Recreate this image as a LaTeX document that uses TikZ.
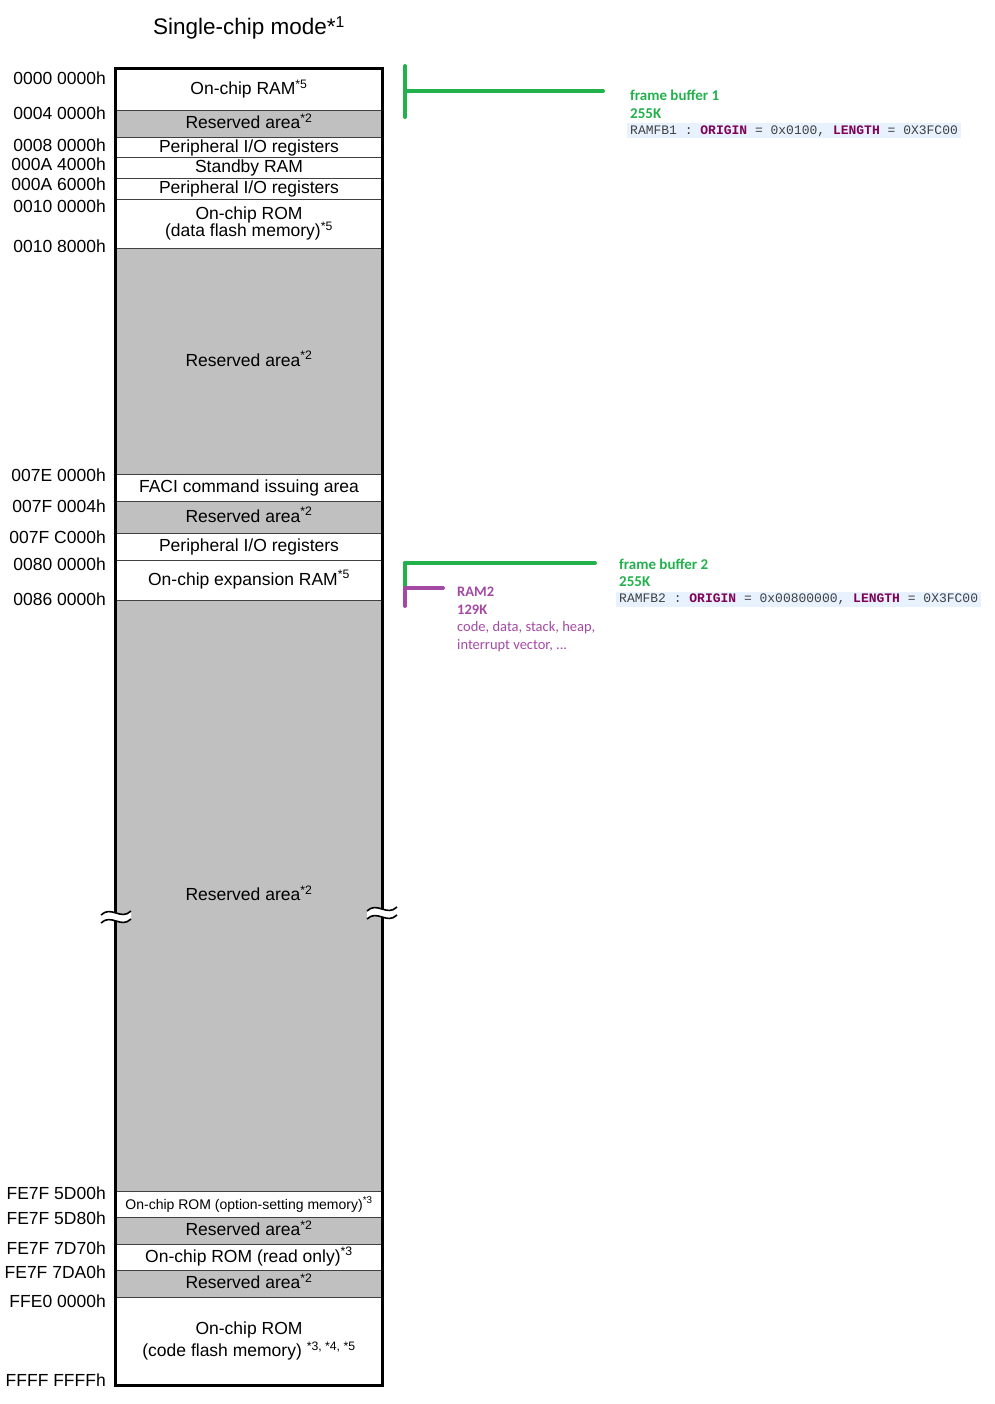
\documentclass[tikz,border=0pt]{standalone}
\usepackage{fontspec}
\setmainfont{Liberation Sans}
\setmonofont{Liberation Mono}
\newfontfamily\notefont{Carlito}
\usetikzlibrary{positioning}

\definecolor{memgray}{RGB}{192,192,192}
\definecolor{fbgreen}{RGB}{34,177,76}
\definecolor{rampurple}{RGB}{163,73,164}
\definecolor{kwred}{RGB}{127,0,85}
\definecolor{codebg}{RGB}{232,242,254}
\newcommand{\kw}[1]{\textbf{\textcolor{kwred}{#1}}}

\begin{document}
\begin{tikzpicture}[x=1pt,y=-1pt,
  base/.style={draw=black!75, line width=0.8pt, minimum width=266pt, inner sep=0pt,
    anchor=north, font=\fontsize{17.5}{20}\selectfont, align=center},
  cell/.style={base, text height=13pt, text depth=3.5pt},
  resv/.style={cell, fill=memgray},
  addr/.style={anchor=east, inner sep=0pt, font=\fontsize{17.5}{20}\selectfont},
  marker/.style={line width=4pt, line cap=round},
  note/.style={anchor=west, inner sep=0pt, font=\notefont\fontsize{14.5}{18}\selectfont, align=left},
  codebox/.style={anchor=west, fill=codebg, inner xsep=3pt, inner ysep=2pt,
    font=\ttfamily\fontsize{13}{15}\selectfont, text=black!75}]
\useasboundingbox (0,0) rectangle (994,1404);

% title
\node[font=\fontsize{22.5}{26}\selectfont] (title) at (249,28) {Single-chip mode*\textsuperscript{1}};

% memory map rows
\node[cell, minimum height=41pt] (ram) at (249,69) {On-chip RAM\textsuperscript{*5}};
\node[resv, minimum height=27pt] (rsvA) at (249,110) {Reserved area\textsuperscript{*2}};
\node[cell, minimum height=20pt] (pioA) at (249,137) {Peripheral I/O registers};
\node[cell, minimum height=21pt] (sbram) at (249,157) {Standby RAM};
\node[cell, minimum height=21pt] (pioB) at (249,178) {Peripheral I/O registers};
\node[base, minimum height=49pt] (dflash) at (249,199) {On-chip ROM\\[-3pt](data flash memory)\textsuperscript{*5}};
\node[resv, minimum height=226pt] (rsvB) at (249,248) {Reserved area\textsuperscript{*2}};
\node[cell, minimum height=27pt] (faci) at (249,474) {FACI command issuing area};
\node[resv, minimum height=32pt] (rsvC) at (249,501) {Reserved area\textsuperscript{*2}};
\node[cell, minimum height=27pt] (pioC) at (249,533) {Peripheral I/O registers};
\node[cell, minimum height=40pt] (expram) at (249,560) {On-chip expansion RAM\textsuperscript{*5}};
\node[resv, minimum height=591pt] (rsvD) at (249,600) {Reserved area\textsuperscript{*2}};
\node[cell, minimum height=26pt, font=\fontsize{14}{16}\selectfont] (optset) at (249,1191) {On-chip ROM (option-setting memory)\textsuperscript{*3}};
\node[resv, minimum height=27pt] (rsvE) at (249,1217) {Reserved area\textsuperscript{*2}};
\node[cell, minimum height=26pt] (rdonly) at (249,1244) {On-chip ROM (read only)\textsuperscript{*3}};
\node[resv, minimum height=27pt] (rsvF) at (249,1270) {Reserved area\textsuperscript{*2}};
\node[base, minimum height=88pt] (cflash) at (249,1297) {On-chip ROM\\[2pt](code flash memory) \textsuperscript{*3, *4, *5}};

\draw[line width=3pt] (ram.north west) rectangle (cflash.south east);

% break marks
\foreach \bx/\by in {116/917, 382/913} {
  \fill[white] (\bx-15,\by-2) .. controls (\bx-5,\by-12) and (\bx+5,\by+4) .. (\bx+15,\by-6)
    -- (\bx+15,\by+2) .. controls (\bx+5,\by+12) and (\bx-5,\by-4) .. (\bx-15,\by+6) -- cycle;
  \draw[line width=1.6pt] (\bx-15,\by-2) .. controls (\bx-5,\by-12) and (\bx+5,\by+4) .. (\bx+15,\by-6);
  \draw[line width=1.6pt] (\bx-15,\by+6) .. controls (\bx-5,\by-4) and (\bx+5,\by+12) .. (\bx+15,\by+2);
}

% addresses
\node[addr] (a00) at (106,78) {0000 0000h};
\node[addr] (a01) at (106,113) {0004 0000h};
\node[addr] (a02) at (106,145) {0008 0000h};
\node[addr] (a03) at (106,164) {000A 4000h};
\node[addr] (a04) at (106,184) {000A 6000h};
\node[addr] (a05) at (106,206) {0010 0000h};
\node[addr] (a06) at (106,246) {0010 8000h};
\node[addr] (a07) at (106,475) {007E 0000h};
\node[addr] (a08) at (106,506) {007F 0004h};
\node[addr] (a09) at (106,537) {007F C000h};
\node[addr] (a10) at (106,564) {0080 0000h};
\node[addr] (a11) at (106,599) {0086 0000h};
\node[addr] (a12) at (106,1193) {FE7F 5D00h};
\node[addr] (a13) at (106,1218) {FE7F 5D80h};
\node[addr] (a14) at (106,1248) {FE7F 7D70h};
\node[addr] (a15) at (106,1272) {FE7F 7DA0h};
\node[addr] (a16) at (106,1301) {FFE0 0000h};
\node[addr] (a17) at (106,1380) {FFFF FFFFh};

% frame buffer 1
\coordinate (fbAtop) at (405,66);
\coordinate (fbAbot) at (405,117);
\coordinate (fbAmid) at (405,91);
\coordinate (fbAend) at (603,91);
\draw[marker, fbgreen] (fbAtop) -- (fbAbot);
\draw[marker, fbgreen] (fbAmid) -- (fbAend);
\node[note, text=fbgreen, font=\notefont\bfseries\fontsize{15}{18}\selectfont] (fbAname) at (630,95) {frame buffer 1};
\node[note, text=fbgreen, font=\notefont\bfseries\fontsize{15}{18}\selectfont] (fbAsize) at (630,114) {255K};
\node[codebox] (fbAcode) at (627,131) {RAMFB1 : \kw{ORIGIN} = 0x0100, \kw{LENGTH} = 0X3FC00};

% frame buffer 2 and RAM2
\coordinate (fbBtop) at (405,563);
\coordinate (fbBend) at (595,563);
\coordinate (ramBtop) at (405,588);
\coordinate (ramBbot) at (405,606);
\coordinate (ramBend) at (443,588);
\draw[marker, fbgreen] (fbBtop) -- (ramBtop);
\draw[marker, fbgreen] (fbBtop) -- (fbBend);
\draw[marker, rampurple] (ramBtop) -- (ramBbot);
\draw[marker, rampurple] (ramBtop) -- (ramBend);
\node[note, text=fbgreen, font=\notefont\bfseries\fontsize{15}{18}\selectfont] (fbBname) at (619,564) {frame buffer 2};
\node[note, text=fbgreen, font=\notefont\bfseries\fontsize{15}{18}\selectfont] (fbBsize) at (619,582) {255K};
\node[codebox] (fbBcode) at (616,599) {RAMFB2 : \kw{ORIGIN} = 0x00800000, \kw{LENGTH} = 0X3FC00};
\node[note, text=rampurple, font=\notefont\bfseries\fontsize{14.5}{18}\selectfont] (ramBname) at (457,592) {RAM2};
\node[note, text=rampurple, font=\notefont\bfseries\fontsize{14.5}{18}\selectfont] (ramBsize) at (457,610) {129K};
\node[note, text=rampurple] (ramBuse) at (457,637) {code, data, stack, heap,\\interrupt vector, ...};
\end{tikzpicture}
\end{document}
